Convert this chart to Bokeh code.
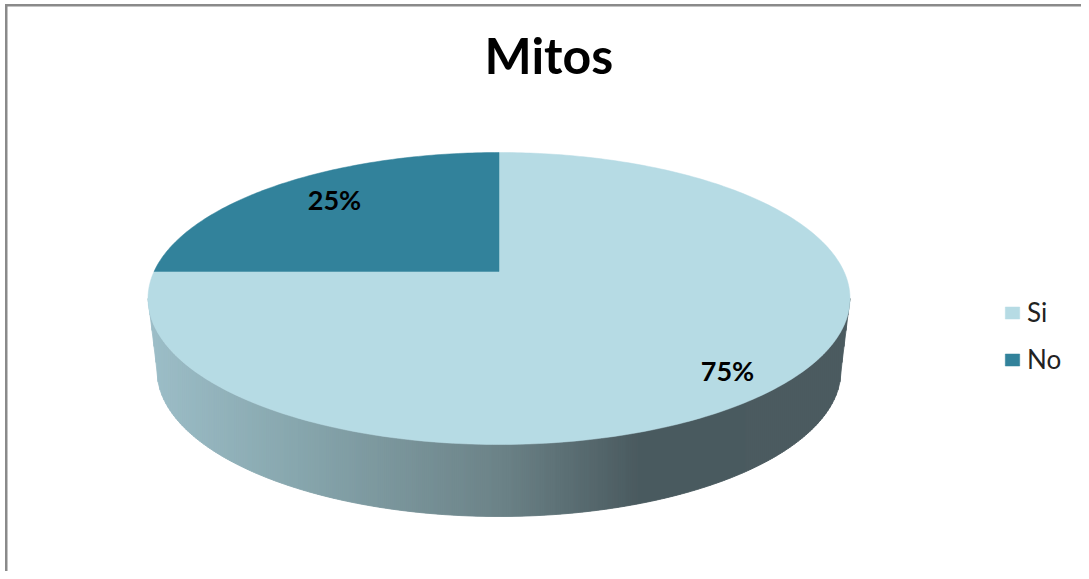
import math
from bokeh.plotting import figure
from bokeh.embed import file_html
from bokeh.resources import INLINE
from bokeh.models import Range1d, Legend, LegendItem
from bokeh.core.properties import value

title_text = "Mitos"
categories = ["Si", "No"]
shares = [75, 25]
labels = ["75%", "25%"]
colors = ["#b6dbe4", "#32829b"]

W, H, T = 1081, 571, 88
CX, CY, RX, RY = 498.5, 298, 351, 146
AY = 271
LOW_CY, LOW_RX, LOW_RY = 370, 342, 146
wall_stops = [(147, (157, 190, 200)), (300, (135, 166, 173)), (500, (108, 131, 136)),
              (640, (74, 90, 95)), (850, (75, 91, 96))]
label_pos = {"75%": (727, 370), "25%": (334, 199)}
BORDER = "#8a8a8a"

p = figure(width=W, height=H, output_backend="svg", toolbar_location=None,
           x_range=Range1d(0, W), y_range=Range1d(H, T),
           frame_width=W, frame_height=H - T,
           min_border=0, min_border_top=T, min_border_left=0, min_border_right=0, min_border_bottom=0)
p.styles = {"background": f"linear-gradient({BORDER},{BORDER}) 5px 4px / 100% 2.5px no-repeat, "
                          f"linear-gradient({BORDER},{BORDER}) 5px 4px / 2.5px 100% no-repeat, white"}
p.border_fill_color = None
p.background_fill_color = None
p.xaxis.visible = False
p.yaxis.visible = False
p.grid.visible = False
p.outline_line_color = None

p.title.text = title_text
p.title.align = "left"
p.title.text_font = "Lato"
p.title.text_font_size = "50px"
p.title.text_font_style = "bold"
p.title.text_color = "#000000"
p.title.offset = 484
p.title.standoff = 8


def wall_color(x):
    for (x0, c0), (x1, c1) in zip(wall_stops, wall_stops[1:]):
        if x <= x1:
            f = (x - x0) / (x1 - x0)
            r, g, b = [round(a + (d - a) * f) for a, d in zip(c0, c1)]
            return f"#{r:02x}{g:02x}{b:02x}"
    return "#4b5b60"


def wall_top(x):
    u = (x - CX) / RX
    return CY + RY * math.sqrt(max(0, 1 - u * u))


def wall_bottom(x):
    if abs(x - CX) <= LOW_RX:
        return LOW_CY + LOW_RY * math.sqrt(1 - ((x - CX) / LOW_RX) ** 2)
    return CY + (RX - abs(x - CX)) / (RX - LOW_RX) * (LOW_CY - CY)


xs_w, ys_w, fills = [], [], []
x_lo, x_hi = CX - RX, CX + RX
steps = int((x_hi - x_lo) // 2)
for k in range(steps):
    a = x_lo + (x_hi - x_lo) * k / steps
    b = x_lo + (x_hi - x_lo) * (k + 1) / steps
    xs_w.append([a, b, b, a])
    ys_w.append([wall_top(a), wall_top(b), wall_bottom(b), wall_bottom(a)])
    fills.append(wall_color((a + b) / 2))
p.patches(xs_w, ys_w, fill_color=fills, line_color=fills, line_width=0.8)


def rim(theta):
    dx, dy = RX * math.sin(theta), -RY * math.cos(theta)
    a = (dx / RX) ** 2 + (dy / RY) ** 2
    b = 2 * (AY - CY) * dy / RY ** 2
    c = ((AY - CY) / RY) ** 2 - 1
    s = (-b + math.sqrt(b * b - 4 * a * c)) / (2 * a)
    return CX + s * dx, AY + s * dy


items = []
start = 0.0
for cat, share, col in zip(categories, shares, colors):
    span = share / 100 * 2 * math.pi
    n = max(2, int(share * 4))
    pts = [rim(start + span * k / n) for k in range(n + 1)]
    xs = [CX] + [q[0] for q in pts]
    ys = [AY] + [q[1] for q in pts]
    r = p.patch(xs, ys, fill_color=col, line_color=col, line_width=0.5)
    items.append(LegendItem(label=cat, renderers=[r]))
    start += span

p.text(x=[label_pos[s][0] for s in labels], y=[label_pos[s][1] for s in labels], text=labels,
       text_font=value("Lato"), text_font_size="27px", text_font_style="bold",
       text_align="center", text_baseline="middle", text_color="#000000")

legend = Legend(items=items, location=(1003, H - 375), orientation="vertical",
                background_fill_alpha=0, border_line_color=None,
                glyph_width=18, glyph_height=15, label_text_font="Lato", label_text_font_size="26px",
                label_text_color="#222222", spacing=15, padding=2, margin=0, label_standoff=6)
p.add_layout(legend, "center")

open("out.html", "w").write(file_html(p, INLINE))
